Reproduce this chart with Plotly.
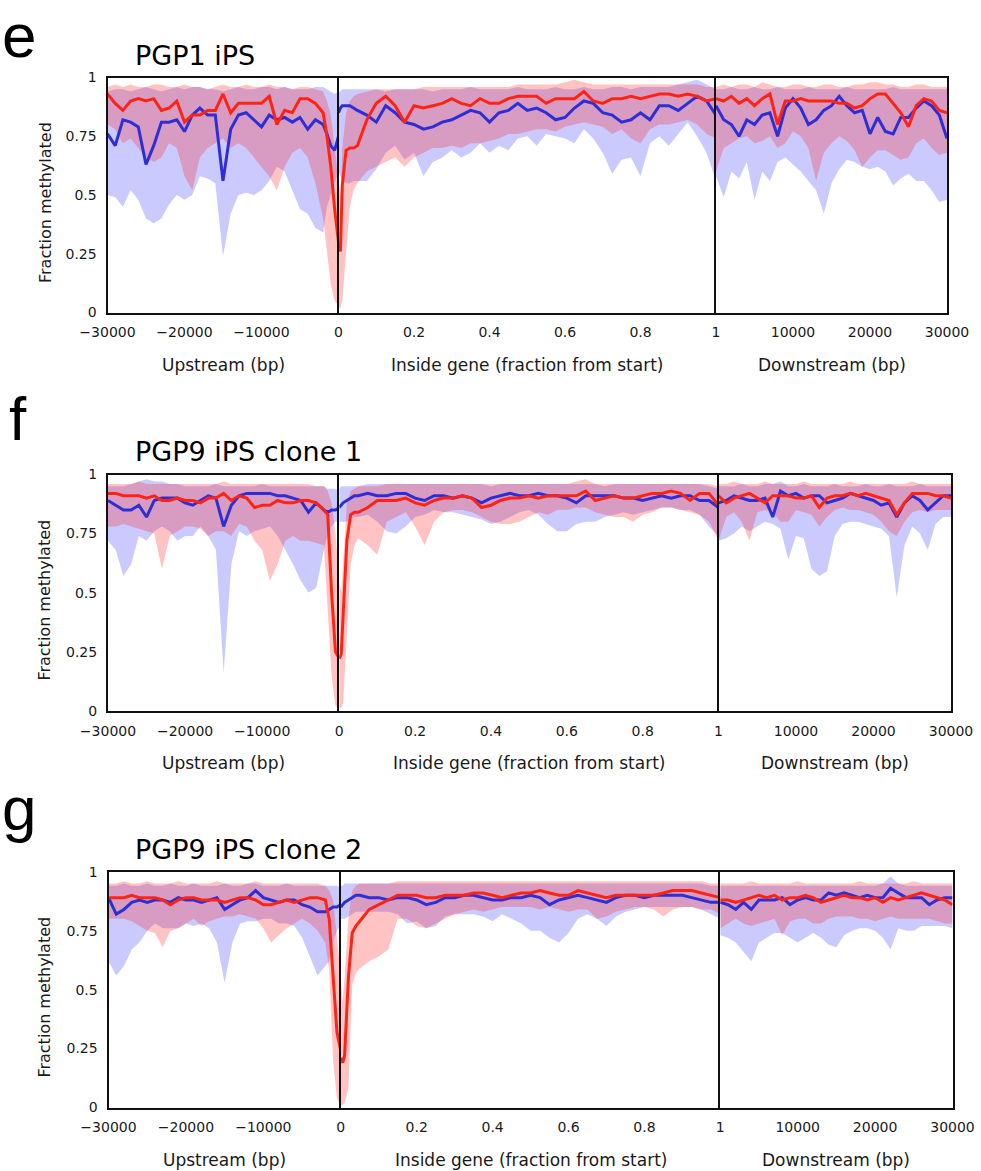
import plotly.graph_objects as go

# ---------------- x positions (data coordinates) ----------------
UP_X = [-30000, -29000, -28000, -27000, -26000, -25000, -24000, -23000, -22000, -21000,
        -20000, -19000, -18000, -17000, -16000, -15000, -14000, -13000, -12000, -11000,
        -10000, -9000, -8000, -7000, -6000, -5000, -4000, -3000, -2000, -1500, -1000, -500, 0]
GENE_X = [0, 0.005, 0.01, 0.02, 0.03, 0.04, 0.05, 0.075, 0.1, 0.125, 0.15, 0.175, 0.2, 0.225,
          0.25, 0.275, 0.3, 0.325, 0.35, 0.375, 0.4, 0.425, 0.45, 0.475, 0.5, 0.525, 0.55,
          0.575, 0.6, 0.625, 0.65, 0.675, 0.7, 0.725, 0.75, 0.775, 0.8, 0.825, 0.85, 0.875,
          0.9, 0.925, 0.95, 0.975, 1.0]
DOWN_X = [1, 1000, 2000, 3000, 4000, 5000, 6000, 7000, 8000, 9000, 10000, 11000, 12000,
          13000, 14000, 15000, 16000, 17000, 18000, 19000, 20000, 21000, 22000, 23000, 24000,
          25000, 26000, 27000, 28000, 29000, 30000]

# ---------------- tick labels ----------------
Y_TICKS = [0, 0.25, 0.5, 0.75, 1]
Y_TICK_TEXT = ["0", "0.25", "0.5", "0.75", "1"]
UP_TICKS = [-30000, -20000, -10000, 0]
UP_TICK_TEXT = ["\u221230000", "\u221220000", "\u221210000", "0"]
GENE_TICKS = [0.2, 0.4, 0.6, 0.8, 1]
GENE_TICK_TEXT = ["0.2", "0.4", "0.6", "0.8", "1"]
DOWN_TICKS = [10000, 20000, 30000]
DOWN_TICK_TEXT = ["10000", "20000", "30000"]
REGION_TITLES = ["Upstream (bp)", "Inside gene (fraction from start)", "Downstream (bp)"]
PANEL_TITLES = ["PGP1 iPS", "PGP9 iPS clone 1", "PGP9 iPS clone 2"]
PANEL_LETTERS = ["e", "f", "g"]

# ================= Panel e : PGP1 iPS =================
E_UP_BLUE = [.76, .71, .82, .81, .79, .63, .71, .81, .81, .82, .77, .84, .87, .84, .84, .56, .78,
             .84, .85, .82, .79, .84, .82, .83, .81, .83, .78, .82, .80, .76, .71, .69, .75]
E_UP_BLUE_LO = [.50, .49, .45, .52, .48, .40, .38, .40, .46, .50, .48, .50, .58, .57, .55, .24, .42,
                .50, .51, .50, .52, .56, .62, .60, .52, .44, .42, .36, .34, .45, .50, .55, .60]
E_UP_BLUE_HI = [.94, .95, .95, .94, .95, .96, .95, .94, .95, .96, .95, .96, .96, .95, .95, .94, .95,
                .96, .95, .95, .96, .96, .95, .96, .95, .95, .95, .96, .96, .95, .94, .93, .94]
E_UP_RED = [.93, .89, .86, .90, .91, .90, .91, .86, .87, .90, .81, .84, .84, .86, .86, .93, .85,
            .89, .89, .89, .89, .92, .80, .86, .85, .91, .91, .89, .85, .75, .62, .44, .30]
E_UP_RED_LO = [.80, .78, .72, .74, .70, .66, .64, .66, .72, .70, .58, .52, .66, .70, .72, .74, .70,
               .72, .70, .66, .62, .58, .52, .62, .68, .70, .66, .55, .40, .25, .12, .05, .03]
E_UP_RED_HI = [.96, .97, .96, .97, .96, .96, .97, .97, .96, .96, .97, .96, .96, .95, .96, .97, .96,
               .96, .97, .96, .96, .97, .96, .96, .95, .96, .96, .95, .94, .90, .84, .70, .56]

E_GENE_BLUE = [.85, .87, .88, .88, .88, .87, .86, .84, .81, .88, .85, .81, .80, .78, .79, .81, .82,
               .84, .86, .85, .81, .85, .86, .89, .86, .87, .85, .82, .83, .87, .90, .89, .85, .84,
               .81, .82, .85, .82, .88, .88, .86, .89, .92, .90, .84]
E_GENE_BLUE_LO = [.60, .58, .56, .55, .55, .56, .56, .56, .61, .68, .71, .65, .68, .58, .64, .66, .69,
                  .66, .68, .72, .68, .71, .69, .74, .75, .71, .76, .75, .74, .72, .78, .74, .68, .59,
                  .65, .66, .58, .72, .75, .71, .76, .81, .75, .68, .56]
E_GENE_BLUE_HI = [.94, .94, .95, .95, .95, .95, .95, .95, .95, .94, .95, .95, .95, .95, .94, .95, .95,
                  .95, .96, .95, .95, .95, .95, .96, .95, .95, .95, .96, .95, .95, .96, .95, .95, .96,
                  .96, .95, .96, .96, .96, .96, .97, .98, .99, .97, .95]
E_GENE_RED = [.30, .26, .54, .69, .70, .70, .71, .82, .89, .92, .88, .81, .88, .87, .88, .89, .91,
              .89, .88, .91, .89, .89, .91, .92, .92, .92, .89, .91, .91, .91, .94, .90, .89, .91,
              .91, .92, .91, .92, .93, .93, .92, .93, .92, .90, .91]
E_GENE_RED_LO = [.02, .02, .05, .25, .45, .52, .55, .60, .62, .64, .66, .62, .66, .68, .70, .70, .71,
                 .70, .72, .72, .73, .74, .76, .76, .77, .78, .78, .77, .79, .80, .81, .80, .79, .76,
                 .78, .74, .72, .78, .80, .80, .81, .82, .80, .76, .74]
E_GENE_RED_HI = [.56, .50, .70, .85, .90, .92, .93, .94, .95, .95, .95, .95, .95, .96, .96, .96, .96,
                 .96, .96, .96, .96, .96, .96, .97, .97, .97, .97, .97, .98, .99, .98, .97, .97, .97,
                 .97, .97, .97, .97, .97, .97, .97, .97, .97, .96, .96]

E_DOWN_BLUE = [.88, .82, .80, .75, .82, .80, .84, .85, .75, .87, .91, .87, .80, .82, .86, .88, .92,
               .88, .85, .86, .76, .83, .77, .76, .83, .83, .87, .90, .88, .84, .74]
E_DOWN_BLUE_LO = [.58, .49, .60, .57, .64, .48, .60, .56, .64, .66, .63, .60, .56, .52, .42, .55, .61,
                  .65, .64, .62, .61, .62, .60, .54, .57, .59, .56, .56, .52, .47, .48]
E_DOWN_BLUE_HI = [.95, .95, .96, .95, .95, .96, .95, .95, .96, .95, .95, .95, .96, .95, .95, .95, .95,
                  .96, .95, .95, .95, .95, .95, .96, .95, .95, .95, .95, .95, .95, .95]
E_DOWN_RED = [.91, .90, .92, .89, .91, .88, .91, .93, .80, .90, .90, .91, .90, .90, .90, .90, .89,
              .89, .87, .88, .91, .93, .93, .89, .85, .79, .88, .91, .90, .86, .85]
E_DOWN_RED_LO = [.60, .70, .72, .74, .75, .72, .73, .75, .70, .72, .77, .75, .70, .56, .68, .72, .75,
                 .73, .69, .62, .66, .69, .69, .67, .65, .66, .72, .74, .70, .67, .68]
E_DOWN_RED_HI = [.96, .97, .96, .97, .97, .96, .98, .97, .96, .96, .97, .97, .96, .96, .97, .97, .96,
                 .96, .97, .97, .98, .98, .97, .97, .96, .96, .97, .97, .96, .96, .96]

# ================= Panel f : PGP9 iPS clone 1 =================
F_UP_BLUE = [.89, .87, .85, .85, .87, .82, .89, .90, .90, .90, .88, .87, .89, .91, .90, .78, .87,
             .91, .92, .92, .92, .92, .91, .91, .90, .89, .84, .88, .85, .84, .85, .85, .86]
F_UP_BLUE_LO = [.72, .68, .57, .62, .74, .72, .76, .78, .76, .72, .74, .74, .78, .74, .68, .16, .62,
                .76, .74, .76, .77, .78, .74, .68, .62, .55, .50, .52, .68, .75, .78, .80, .80]
F_UP_BLUE_HI = [.95, .95, .95, .96, .97, .98, .97, .97, .96, .96, .95, .95, .95, .95, .96, .95, .95,
                .95, .95, .95, .96, .95, .95, .95, .95, .95, .95, .95, .95, .94, .94, .94, .93]
F_UP_RED = [.92, .92, .91, .91, .91, .90, .91, .89, .89, .90, .89, .89, .88, .90, .90, .92, .89,
            .91, .90, .86, .87, .87, .89, .88, .88, .89, .89, .88, .85, .83, .50, .25, .22]
F_UP_RED_LO = [.78, .78, .79, .78, .77, .76, .75, .60, .74, .76, .78, .78, .77, .74, .76, .76, .74,
               .79, .78, .72, .68, .55, .62, .72, .74, .72, .72, .71, .70, .45, .15, .02, .01]
F_UP_RED_HI = [.96, .96, .96, .96, .97, .96, .96, .96, .96, .96, .96, .96, .96, .96, .96, .97, .96,
               .96, .96, .96, .96, .96, .96, .96, .96, .96, .96, .95, .95, .93, .88, .75, .55]

F_GENE_BLUE = [.86, .87, .88, .89, .90, .91, .91, .92, .91, .91, .92, .92, .90, .89, .91, .91, .90,
               .91, .90, .88, .90, .91, .92, .91, .91, .92, .91, .91, .90, .88, .91, .91, .91, .91,
               .90, .90, .89, .90, .91, .90, .91, .91, .89, .89, .86]
F_GENE_BLUE_LO = [.80, .80, .80, .80, .81, .82, .82, .83, .80, .76, .75, .78, .82, .83, .85, .84, .84,
                  .83, .82, .81, .79, .80, .82, .84, .85, .83, .79, .76, .76, .79, .80, .80, .82, .83,
                  .84, .83, .84, .85, .86, .86, .85, .85, .83, .78, .74]
F_GENE_BLUE_HI = [.94, .95, .95, .95, .95, .95, .95, .96, .96, .96, .96, .96, .96, .96, .96, .96, .96,
                  .96, .96, .96, .95, .96, .96, .96, .96, .96, .96, .96, .96, .96, .96, .96, .95, .96,
                  .96, .96, .96, .96, .96, .96, .96, .96, .96, .95, .94]
F_GENE_RED = [.22, .24, .40, .72, .83, .84, .84, .86, .89, .89, .89, .90, .88, .87, .89, .90, .90,
              .91, .90, .86, .87, .89, .90, .90, .91, .90, .91, .91, .91, .91, .93, .89, .90, .91,
              .90, .90, .91, .92, .92, .93, .92, .89, .92, .92, .87]
F_GENE_RED_LO = [.01, .01, .03, .30, .62, .70, .73, .70, .66, .80, .82, .84, .78, .70, .80, .84, .85,
                 .85, .84, .82, .80, .79, .79, .80, .82, .84, .83, .85, .85, .86, .86, .84, .83, .82,
                 .82, .80, .83, .84, .86, .86, .85, .84, .83, .80, .72]
F_GENE_RED_HI = [.55, .50, .62, .88, .93, .94, .95, .95, .95, .96, .96, .96, .96, .96, .96, .96, .96,
                 .96, .96, .96, .96, .96, .96, .96, .96, .96, .96, .96, .96, .97, .98, .96, .96, .96,
                 .96, .96, .96, .96, .96, .96, .96, .96, .96, .96, .95]

F_DOWN_BLUE = [.88, .89, .91, .90, .89, .89, .90, .82, .93, .91, .92, .90, .91, .91, .88, .89, .90,
               .92, .91, .90, .89, .87, .88, .82, .88, .91, .89, .85, .88, .91, .91]
F_DOWN_BLUE_LO = [.72, .73, .75, .78, .76, .78, .80, .79, .77, .64, .74, .73, .60, .57, .59, .74, .79,
                  .80, .80, .79, .78, .77, .74, .48, .70, .78, .75, .68, .79, .82, .82]
F_DOWN_BLUE_HI = [.95, .95, .95, .96, .95, .95, .96, .96, .97, .95, .95, .96, .95, .95, .95, .96, .95,
                  .95, .95, .96, .95, .95, .96, .95, .95, .95, .96, .95, .95, .95, .95]
F_DOWN_RED = [.91, .88, .90, .91, .92, .90, .88, .91, .91, .91, .90, .90, .91, .86, .90, .91, .91,
              .92, .91, .92, .91, .90, .89, .83, .88, .92, .92, .92, .91, .91, .90]
F_DOWN_RED_LO = [.72, .82, .84, .80, .72, .84, .85, .84, .80, .80, .85, .84, .83, .78, .82, .85, .86,
                 .85, .85, .84, .83, .80, .76, .74, .80, .84, .85, .84, .85, .85, .85]
F_DOWN_RED_HI = [.96, .96, .97, .96, .96, .96, .97, .96, .96, .96, .96, .97, .96, .96, .96, .96, .96,
                 .97, .96, .96, .96, .96, .96, .96, .96, .97, .96, .96, .96, .96, .96]

# ================= Panel g : PGP9 iPS clone 2 =================
G_UP_BLUE = [.89, .82, .84, .87, .88, .87, .88, .88, .87, .89, .88, .88, .87, .88, .89, .84, .86,
             .88, .89, .92, .89, .88, .87, .88, .88, .86, .85, .83, .83, .84, .85, .85, .86]
G_UP_BLUE_LO = [.62, .56, .60, .67, .70, .75, .78, .76, .76, .76, .78, .77, .78, .76, .70, .53, .70,
                .78, .79, .79, .80, .80, .78, .78, .77, .72, .64, .56, .60, .62, .70, .75, .78]
G_UP_BLUE_HI = [.94, .94, .95, .94, .94, .95, .94, .94, .95, .94, .94, .95, .94, .94, .94, .95, .94,
                .94, .95, .95, .94, .94, .94, .95, .94, .94, .94, .94, .94, .94, .94, .94, .93]
G_UP_RED = [.89, .89, .89, .90, .89, .89, .89, .88, .86, .88, .89, .89, .88, .88, .88, .87, .88,
            .89, .89, .88, .86, .86, .87, .88, .87, .88, .89, .89, .88, .80, .55, .32, .24]
G_UP_RED_LO = [.80, .80, .80, .79, .77, .75, .74, .68, .75, .76, .78, .80, .77, .79, .80, .81, .81,
               .82, .81, .80, .76, .70, .73, .76, .78, .80, .78, .75, .70, .58, .20, .04, .01]
G_UP_RED_HI = [.95, .95, .96, .95, .95, .96, .95, .95, .95, .96, .95, .95, .95, .95, .96, .95, .95,
               .95, .95, .96, .95, .95, .95, .95, .95, .95, .95, .95, .94, .92, .88, .72, .56]

G_GENE_BLUE = [.85, .86, .87, .88, .89, .90, .90, .89, .89, .88, .89, .89, .88, .86, .87, .89, .89,
               .90, .90, .89, .88, .88, .89, .89, .90, .89, .86, .88, .89, .90, .89, .88, .87, .89,
               .90, .90, .89, .90, .90, .90, .90, .89, .88, .87, .87]
G_GENE_BLUE_LO = [.80, .80, .80, .81, .82, .83, .83, .83, .83, .83, .82, .78, .79, .76, .77, .81, .82,
                  .82, .82, .81, .79, .82, .80, .78, .75, .75, .72, .70, .74, .80, .82, .80, .77, .81,
                  .83, .84, .85, .85, .85, .85, .85, .85, .84, .82, .80]
G_GENE_BLUE_HI = [.94, .94, .95, .95, .95, .95, .95, .95, .95, .95, .95, .95, .95, .95, .95, .95, .95,
                  .95, .95, .95, .95, .95, .95, .95, .95, .95, .95, .95, .95, .95, .95, .95, .95, .95,
                  .95, .95, .95, .95, .95, .95, .95, .95, .95, .94, .94]
G_GENE_RED = [.21, .19, .22, .55, .74, .77, .79, .84, .86, .88, .90, .90, .90, .89, .89, .90, .90,
              .90, .91, .91, .90, .89, .90, .91, .91, .92, .91, .90, .90, .92, .91, .90, .89, .90,
              .90, .90, .90, .90, .91, .92, .92, .92, .91, .90, .89]
G_GENE_RED_LO = [.01, .01, .02, .08, .52, .57, .59, .62, .64, .67, .80, .80, .77, .76, .78, .80, .82,
                 .83, .84, .83, .84, .85, .85, .85, .85, .84, .85, .84, .83, .84, .84, .80, .81, .83,
                 .84, .85, .85, .84, .81, .84, .85, .85, .84, .84, .82]
G_GENE_RED_HI = [.55, .45, .55, .80, .92, .94, .95, .95, .95, .95, .96, .96, .96, .96, .96, .96, .96,
                 .96, .96, .96, .96, .96, .96, .96, .96, .96, .96, .96, .96, .96, .96, .96, .96, .96,
                 .96, .96, .96, .96, .96, .96, .96, .96, .96, .95, .95]

G_DOWN_BLUE = [.87, .86, .84, .87, .84, .88, .88, .88, .89, .86, .88, .89, .88, .88, .91, .90, .91,
               .90, .89, .90, .89, .89, .93, .91, .89, .89, .89, .86, .88, .89, .89]
G_DOWN_BLUE_LO = [.73, .72, .70, .66, .62, .70, .72, .74, .74, .72, .70, .72, .74, .72, .69, .68, .73,
                  .75, .76, .76, .75, .72, .67, .76, .75, .75, .77, .77, .77, .77, .76]
G_DOWN_BLUE_HI = [.94, .94, .94, .94, .94, .94, .94, .94, .94, .94, .94, .94, .94, .94, .94, .94, .94,
                  .94, .94, .94, .94, .95, .98, .95, .94, .94, .94, .94, .94, .94, .94]
G_DOWN_RED = [.88, .88, .87, .88, .89, .90, .89, .90, .88, .89, .89, .90, .89, .87, .88, .89, .90,
              .89, .89, .88, .89, .87, .89, .88, .89, .90, .91, .90, .89, .88, .86]
G_DOWN_RED_LO = [.76, .78, .80, .78, .77, .78, .79, .80, .73, .79, .80, .80, .78, .78, .80, .81, .81,
                 .81, .80, .80, .79, .80, .81, .80, .80, .80, .80, .80, .79, .78, .78]
G_DOWN_RED_HI = [.95, .95, .95, .95, .96, .95, .95, .95, .95, .95, .96, .95, .95, .95, .95, .95, .95,
                 .95, .96, .95, .95, .95, .95, .95, .95, .96, .95, .95, .95, .95, .95]

# ---------------- assemble ----------------
W, H = 981, 1171
BLUE_LINE = "#2e2ed6"
RED_LINE = "#ff2314"
BLUE_FILL = "rgba(60,60,255,0.27)"
RED_FILL = "rgba(255,40,40,0.28)"
FONT = "DejaVu Sans"

REGION_X = [UP_X, GENE_X, DOWN_X]
PANEL_DATA = [
    [(E_UP_BLUE, E_UP_BLUE_LO, E_UP_BLUE_HI, E_UP_RED, E_UP_RED_LO, E_UP_RED_HI),
     (E_GENE_BLUE, E_GENE_BLUE_LO, E_GENE_BLUE_HI, E_GENE_RED, E_GENE_RED_LO, E_GENE_RED_HI),
     (E_DOWN_BLUE, E_DOWN_BLUE_LO, E_DOWN_BLUE_HI, E_DOWN_RED, E_DOWN_RED_LO, E_DOWN_RED_HI)],
    [(F_UP_BLUE, F_UP_BLUE_LO, F_UP_BLUE_HI, F_UP_RED, F_UP_RED_LO, F_UP_RED_HI),
     (F_GENE_BLUE, F_GENE_BLUE_LO, F_GENE_BLUE_HI, F_GENE_RED, F_GENE_RED_LO, F_GENE_RED_HI),
     (F_DOWN_BLUE, F_DOWN_BLUE_LO, F_DOWN_BLUE_HI, F_DOWN_RED, F_DOWN_RED_LO, F_DOWN_RED_HI)],
    [(G_UP_BLUE, G_UP_BLUE_LO, G_UP_BLUE_HI, G_UP_RED, G_UP_RED_LO, G_UP_RED_HI),
     (G_GENE_BLUE, G_GENE_BLUE_LO, G_GENE_BLUE_HI, G_GENE_RED, G_GENE_RED_LO, G_GENE_RED_HI),
     (G_DOWN_BLUE, G_DOWN_BLUE_LO, G_DOWN_BLUE_HI, G_DOWN_RED, G_DOWN_RED_LO, G_DOWN_RED_HI)],
]

# layout geometry (pixels)
PANEL_TOP = [77.5, 474.5, 871.7]
PANEL_BOTTOM = [312.5, 710.7, 1107.5]
PANEL_XEDGES = [(107.5, 338.5, 716.0, 947.0),
                (108.0, 339.3, 718.5, 951.0),
                (108.5, 340.8, 720.3, 952.5)]
# letter placement: (y pixel, anchor)
LETTER_POS = [(0, "top"), (418, "middle"), (808, "middle")]
LETTER_X = [1, 8, 1]
TITLE_Y = [55.5, 452, 849]

X_RANGES = [[-30000, 0], [0, 1], [1, 30000]]
X_TICKS = [(UP_TICKS, UP_TICK_TEXT), (GENE_TICKS, GENE_TICK_TEXT), (DOWN_TICKS, DOWN_TICK_TEXT)]


def px_x(p):
    return p / W


def px_y(p):
    return 1 - p / H


fig = go.Figure()
layout = dict(width=W, height=H, autosize=False,
              margin=dict(l=0, r=0, t=0, b=0, pad=0, autoexpand=False),
              paper_bgcolor="white", plot_bgcolor="white", showlegend=False,
              font=dict(family=FONT, size=14, color="#1a1a1a"))
annotations = []

for p in range(3):
    edges = PANEL_XEDGES[p]
    ydom = [px_y(PANEL_BOTTOM[p]), px_y(PANEL_TOP[p])]
    for r in range(3):
        n = p * 3 + r + 1
        xname = "x" if n == 1 else f"x{n}"
        yname = "y" if n == 1 else f"y{n}"
        xkey = "xaxis" if n == 1 else f"xaxis{n}"
        ykey = "yaxis" if n == 1 else f"yaxis{n}"
        xs = REGION_X[r]
        b, blo, bhi, rd, rlo, rhi = PANEL_DATA[p][r]

        # bands
        fig.add_trace(go.Scatter(x=xs + xs[::-1], y=bhi + blo[::-1], fill="toself",
                                 fillcolor=BLUE_FILL, line=dict(width=0), mode="lines",
                                 xaxis=xname, yaxis=yname, hoverinfo="skip"))
        fig.add_trace(go.Scatter(x=xs + xs[::-1], y=rhi + rlo[::-1], fill="toself",
                                 fillcolor=RED_FILL, line=dict(width=0), mode="lines",
                                 xaxis=xname, yaxis=yname, hoverinfo="skip"))
        # mean lines
        fig.add_trace(go.Scatter(x=xs, y=b, mode="lines", line=dict(color=BLUE_LINE, width=3),
                                 xaxis=xname, yaxis=yname, hoverinfo="skip"))
        fig.add_trace(go.Scatter(x=xs, y=rd, mode="lines", line=dict(color=RED_LINE, width=3),
                                 xaxis=xname, yaxis=yname, hoverinfo="skip"))

        tv, tt = X_TICKS[r]
        layout[xkey] = dict(domain=[px_x(edges[r]), px_x(edges[r + 1])], anchor=yname,
                            range=X_RANGES[r], showgrid=False, zeroline=False, automargin=False,
                            showline=True, linecolor="#111", linewidth=2, mirror=True,
                            ticks="", tickvals=tv, ticktext=tt, ticklabelstandoff=6,
                            tickfont=dict(family=FONT, size=14, color="#1a1a1a"),
                            fixedrange=True)
        layout[ykey] = dict(domain=ydom, anchor=xname, range=[0, 1], showgrid=False,
                            zeroline=False, automargin=False, showline=True, linecolor="#111",
                            linewidth=2, mirror=(r == 2), ticks="", tickvals=Y_TICKS,
                            ticktext=Y_TICK_TEXT, showticklabels=(r == 0), ticklabelstandoff=6,
                            tickfont=dict(family=FONT, size=14, color="#1a1a1a"),
                            fixedrange=True)

        # region axis title
        annotations.append(dict(text=REGION_TITLES[r], xref="paper", yref="paper",
                                x=px_x((edges[r] + edges[r + 1]) / 2),
                                y=px_y(PANEL_BOTTOM[p] + 52), xanchor="center", yanchor="middle",
                                showarrow=False, font=dict(family=FONT, size=17, color="#1a1a1a")))

    # y title
    annotations.append(dict(text="Fraction methylated", xref="paper", yref="paper",
                            x=px_x(45), y=px_y((PANEL_TOP[p] + PANEL_BOTTOM[p]) / 2 + 8),
                            textangle=-90, xanchor="center", yanchor="middle", showarrow=False,
                            font=dict(family=FONT, size=16, color="#1a1a1a")))
    # panel title
    annotations.append(dict(text=PANEL_TITLES[p], xref="paper", yref="paper",
                            x=px_x(133), y=px_y(TITLE_Y[p]), xanchor="left", yanchor="middle",
                            showarrow=False, font=dict(family=FONT, size=27, color="black")))
    # panel letter
    ly, lanchor = LETTER_POS[p]
    annotations.append(dict(text=PANEL_LETTERS[p], xref="paper", yref="paper",
                            x=px_x(LETTER_X[p]), y=px_y(ly), xanchor="left",
                            yanchor=lanchor, showarrow=False, borderpad=0,
                            font=dict(family="Liberation Sans", size=62, color="black")))

layout["annotations"] = annotations
fig.update_layout(**layout)
fig.write_html("out.html", config={"responsive": False, "displayModeBar": False})
